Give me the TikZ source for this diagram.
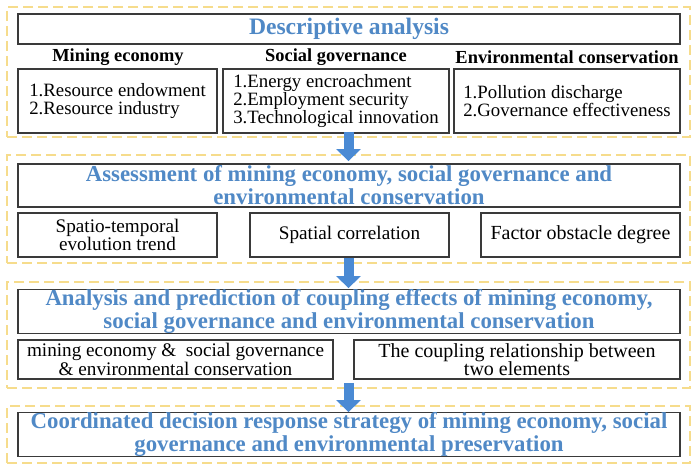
\documentclass[tikz,border=0pt]{standalone}
\usepackage{fontspec}
\setmainfont{Liberation Serif}
\usepackage{xcolor}
\usepackage{tikz}
\usetikzlibrary{arrows.meta,positioning}
\definecolor{stagegold}{HTML}{F6DC8C}
\definecolor{headblue}{HTML}{5089C6}
\definecolor{arrowblue}{HTML}{4A8AD4}
\definecolor{edgegray}{HTML}{3A3A3A}
\tikzset{
  stageframe/.style={draw=stagegold,line width=0.9pt,dash pattern=on 5pt off 2.5pt,
    minimum width=341.5pt,inner sep=0pt},
  stagetitle/.style={draw=edgegray,line width=0.6pt,fill=white,align=center,
    minimum width=331pt,inner sep=0pt,text=headblue,
    font=\fontsize{11.4}{11.5}\selectfont\bfseries},
  itembox/.style={draw=edgegray,line width=0.6pt,fill=white,inner sep=0pt,
    font=\fontsize{9.4}{8.8}\selectfont},
  itemleft/.style={itembox,align=left},
  itemcenter/.style={itembox,align=center},
  grouphead/.style={font=\fontsize{9.2}{10}\selectfont\bfseries,inner sep=0pt},
  stagearrow/.style={-{Triangle[length=6pt,width=12pt]},draw=arrowblue,line width=5pt,
    shorten <=-3pt,shorten >=-3.5pt}
}

\begin{document}
\begin{tikzpicture}[x=0.5pt,y=-0.5pt]
  \useasboundingbox (0,0) rectangle (700,471);
  % stage 1: descriptive analysis
  \node[stageframe,minimum height=65pt] (stage1) at (348.5,72) {};
  \node[stagetitle,minimum height=15pt,font=\fontsize{11.8}{12}\selectfont\bfseries] (desc) at (349,29) {Descriptive analysis};
  \node[grouphead] (minehead) at (118,57) {Mining economy};
  \node[grouphead] (sochead) at (336,57) {Social governance};
  \node[grouphead] (envhead) at (567,57) {Environmental conservation};
  \node[itemleft,minimum width=99.5pt,minimum height=32pt] (mine) at (117.5,101)
    {1.Resource endowment\\2.Resource industry};
  \node[itemleft,minimum width=113pt,minimum height=32pt] (soc) at (336,101)
    {1.Energy encroachment\\2.Employment security\\3.Technological innovation};
  \node[itemleft,minimum width=113pt,minimum height=32pt] (env) at (567,101)
    {1.Pollution discharge\\2.Governance effectiveness};
  % stage 2: assessment
  \node[stageframe,minimum height=54pt] (stage2) at (348.5,209) {};
  \node[stagetitle,minimum height=21.5pt] (assess) at (349,185.5)
    {Assessment of mining economy, social governance and\\environmental conservation};
  \node[itemcenter,minimum width=99.5pt,minimum height=22pt,font=\fontsize{9.6}{9}\selectfont] (trend) at (117.5,235)
    {Spatio-temporal\\evolution trend};
  \node[itemcenter,minimum width=99.5pt,minimum height=22pt,font=\fontsize{9.6}{9}\selectfont] (corr) at (349.5,235)
    {Spatial correlation};
  \node[itemcenter,minimum width=99.5pt,minimum height=22pt,font=\fontsize{10}{9}\selectfont] (obst) at (580.5,235)
    {Factor obstacle degree};
  % stage 3: coupling
  \node[stageframe,minimum height=53pt] (stage3) at (348.5,335) {};
  \node[stagetitle,minimum height=21.5pt] (couple) at (349,311.5)
    {Analysis and prediction of coupling effects of mining economy,\\social governance and environmental conservation};
  \node[itemcenter,minimum width=157.5pt,minimum height=19.5pt,font=\fontsize{9.6}{9.2}\selectfont] (three) at (175.5,359.5)
    {mining economy \&\ \ social governance\\\& environmental conservation};
  \node[itemcenter,minimum width=163pt,minimum height=19.5pt,font=\fontsize{10}{9.2}\selectfont] (two) at (517,359.5)
    {The coupling relationship between\\two elements};
  % stage 4: strategy
  \node[stageframe,minimum height=28.5pt] (stage4) at (348.5,434.5) {};
  \node[stagetitle,minimum height=21.5pt] (strategy) at (349,434.5)
    {Coordinated decision response strategy of mining economy, social\\governance and environmental preservation};
  \draw[stagearrow] (stage1)--(stage2);
  \draw[stagearrow] (stage2)--(stage3);
  \draw[stagearrow] (stage3)--(stage4);
\end{tikzpicture}
\end{document}
